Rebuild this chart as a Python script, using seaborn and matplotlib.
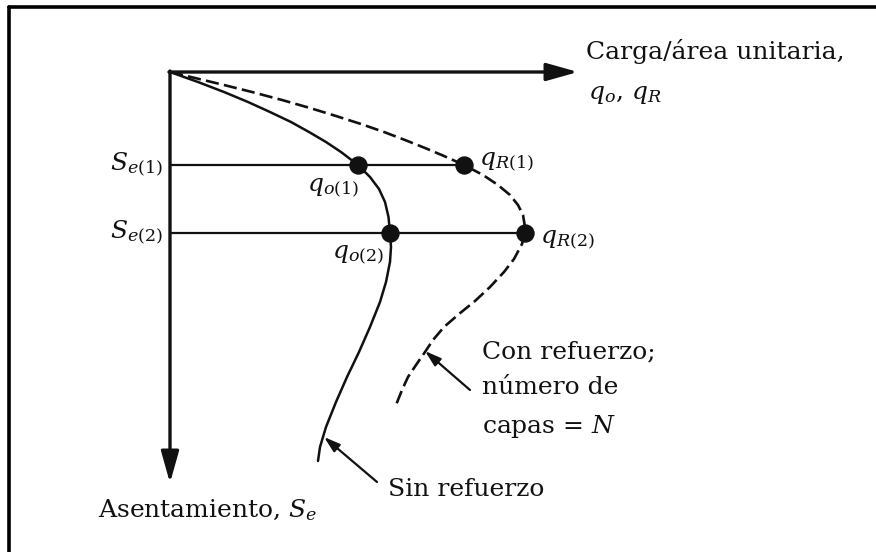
import matplotlib
matplotlib.use("Agg")
import matplotlib.pyplot as plt
import seaborn as sns
import pandas as pd

sns.set_theme(style="white")
plt.rcParams["font.family"] = ["DejaVu Serif"]
plt.rcParams["mathtext.fontset"] = "dejavuserif"

# Load per unit area (q) versus settlement (S), schematic units
q_unreinforced = [0, 28, 54, 78, 100, 121, 139, 156, 171, 188, 200, 209, 215,
                  218.5, 220, 221, 220, 216, 210, 200, 189, 177, 166, 156, 150, 148]
s_unreinforced = [0, 10, 20, 30, 40, 50, 60, 70, 80, 93, 105, 117, 130,
                  145, 161, 175, 190, 210, 230, 255, 280, 305, 330, 355, 375, 389]

q_reinforced = [0, 25, 54, 82, 112, 140, 166, 191, 214, 235, 255, 274, 294,
                313, 328, 340, 348, 353, 354.5, 355, 352, 344, 334, 320, 305,
                289, 274, 263, 255, 246, 238, 232, 226]
s_reinforced = [0, 6, 13, 20, 28, 36, 44, 52, 60, 68, 76, 84, 93,
                103, 113, 123, 133, 143, 152, 161, 172, 187, 200, 215, 229,
                242, 255, 268, 280, 293, 305, 318, 333]

settlements = [93, 161]          # S_e(1), S_e(2)
q_o = [188, 220]                 # q_o(1), q_o(2)
q_R = [294, 355]                 # q_R(1), q_R(2)
settle_labels = ["$S_{e(1)}$", "$S_{e(2)}$"]
qo_labels = ["$q_{o(1)}$", "$q_{o(2)}$"]
qR_labels = ["$q_{R(1)}$", "$q_{R(2)}$"]

fig = plt.figure(figsize=(8.76, 5.52), dpi=100)
ax = fig.add_axes([0, 0, 1, 1])
ax.set_xlim(-170, 706)
ax.set_ylim(480, -72)
ax.axis("off")

ink = "#111111"

# Load-settlement curves (drawn in the order given, no aggregation)
df_u = pd.DataFrame({"q": q_unreinforced, "S": s_unreinforced})
df_r = pd.DataFrame({"q": q_reinforced, "S": s_reinforced})
sns.lineplot(data=df_u, x="q", y="S", sort=False, estimator=None, color=ink,
             lw=1.8, ax=ax)
sns.lineplot(data=df_r, x="q", y="S", sort=False, estimator=None, color=ink,
             lw=1.9, ls=(0, (5, 2)), ax=ax)

# Settlement levels
for s, qr in zip(settlements, q_R):
    ax.plot([0, qr], [s, s], color=ink, lw=1.6, solid_capstyle="butt")

pts = pd.DataFrame({"q": q_o + q_R, "S": settlements + settlements})
sns.scatterplot(data=pts, x="q", y="S", color=ink, s=150, edgecolor=ink,
                zorder=5, ax=ax)

# Axes arrows
arrow_kw = dict(arrowstyle="-|>,head_length=1.6,head_width=0.45", color=ink,
                lw=2.4, shrinkA=0, shrinkB=0)
ax.annotate("", xy=(408, 0), xytext=(-1, 0), arrowprops=arrow_kw)
ax.annotate("", xy=(0, 411), xytext=(0, -1), arrowprops=arrow_kw)

fs = 18
ax.text(416, -21, "Carga/área unitaria,", fontsize=fs, ha="left", va="center",
        color=ink)
ax.text(418, 23, "$q_o$, $q_R$", fontsize=fs, ha="left", va="center", color=ink)
ax.text(-72, 438, "Asentamiento, $S_e$", fontsize=fs, ha="left", va="center",
        color=ink)

for s, lab in zip(settlements, settle_labels):
    ax.text(-7, s, lab, fontsize=fs, ha="right", va="center", color=ink)
ax.text(q_o[0] + 1, settlements[0] + 23, qo_labels[0], fontsize=fs, ha="right",
        va="center", color=ink)
ax.text(q_o[1] - 6, settlements[1] + 22, qo_labels[1], fontsize=fs, ha="right",
        va="center", color=ink)
ax.text(q_R[0] + 15, settlements[0] - 3, qR_labels[0], fontsize=fs, ha="left",
        va="center", color=ink)
ax.text(q_R[1] + 15, settlements[1] + 7, qR_labels[1], fontsize=fs, ha="left",
        va="center", color=ink)

# Curve annotations
note_kw = dict(arrowstyle="-|>,head_length=0.8,head_width=0.25", color=ink,
               lw=1.6, shrinkA=0, shrinkB=0)
ax.annotate("", xy=(255, 279), xytext=(300, 318), arrowprops=note_kw)
ax.text(312, 268, "Con refuerzo;\nnúmero de\ncapas = $N$", fontsize=fs,
        ha="left", va="top", color=ink, linespacing=1.72)
ax.annotate("", xy=(154, 365), xytext=(207, 410), arrowprops=note_kw)
ax.text(218, 418, "Sin refuerzo", fontsize=fs, ha="left", va="center",
        color=ink)

# Picture frame on top and left edges
ax.plot([-161, 706], [-65, -65], color="black", lw=2.6, clip_on=False)
ax.plot([-161, -161], [-65, 480], color="black", lw=2.6, clip_on=False)

fig.savefig("out.png", dpi=100)
